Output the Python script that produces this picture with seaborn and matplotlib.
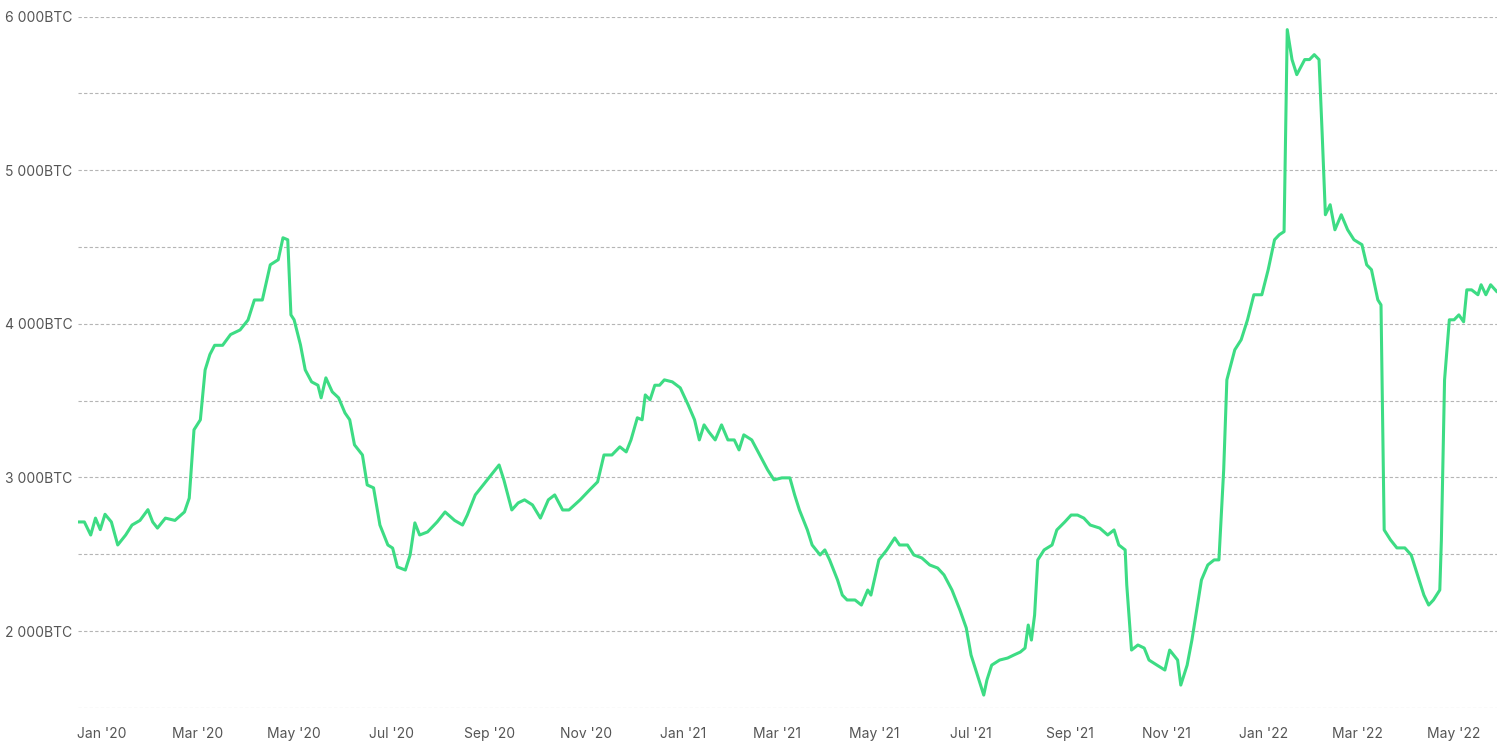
import matplotlib
matplotlib.use("Agg")
import matplotlib.pyplot as plt
import matplotlib.dates as mdates
from matplotlib.ticker import FixedLocator, FuncFormatter
import seaborn as sns
import pandas as pd

# days since 2019-12-17 and reserve in BTC
start_date = "2019-12-17"
days = [0, 4, 8, 11, 14, 17, 21, 25, 30, 34, 39, 44, 47, 50, 55, 61, 67, 70, 73, 77,
        80, 83, 86, 91, 96, 102, 107, 111, 116, 121, 126, 129, 132, 134, 136, 140, 143, 147, 151, 153,
        156, 160, 164, 168, 171, 174, 179, 182, 186, 190, 195, 198, 201, 206, 209, 212, 215, 220, 226, 231,
        237, 242, 245, 250, 255, 260, 265, 268, 273, 277, 281, 286, 291, 296, 300, 305, 309, 316, 322, 327,
        331, 336, 341, 345, 348, 352, 355, 357, 360, 363, 366, 369, 374, 379, 384, 388, 391, 394, 397, 401,
        405, 409, 413, 416, 419, 424, 429, 434, 438, 443, 448, 451, 454, 459, 462, 467, 470, 473, 478, 481,
        484, 489, 493, 497, 499, 504, 509, 514, 517, 522, 526, 531, 536, 541, 545, 550, 555, 559, 562, 566,
        570, 572, 575, 580, 585, 589, 593, 596, 598, 600, 602, 604, 608, 613, 616, 621, 625, 629, 633, 637,
        643, 648, 652, 655, 659, 660, 663, 667, 671, 674, 679, 684, 687, 692, 694, 698, 701, 704, 707, 711,
        715, 718, 721, 723, 728, 732, 736, 740, 745, 749, 753, 756, 759, 761, 764, 767, 772, 775, 778, 781,
        783, 785, 788, 791, 795, 799, 803, 808, 811, 814, 818, 820, 822, 826, 830, 835, 839, 843, 847, 850,
        853, 857, 858, 860, 863, 866, 869, 872, 874, 877, 881, 883, 886, 889, 893]
reserve = [2710, 2710, 2625, 2735, 2660, 2760, 2710, 2560, 2625, 2690, 2720, 2790, 2710, 2670, 2735, 2720, 2775, 2865, 3310, 3375,
           3700, 3800, 3860, 3860, 3930, 3960, 4025, 4155, 4155, 4384, 4417, 4560, 4547, 4058, 4026, 3863, 3700, 3622, 3600, 3518,
           3648, 3557, 3518, 3420, 3375, 3212, 3146, 2951, 2932, 2690, 2560, 2540, 2417, 2397, 2495, 2704, 2625, 2645, 2710, 2775,
           2720, 2690, 2755, 2886, 2951, 3016, 3081, 2984, 2788, 2834, 2854, 2821, 2735, 2854, 2886, 2788, 2788, 2854, 2919, 2971,
           3146, 3146, 3199, 3166, 3244, 3388, 3375, 3537, 3505, 3600, 3600, 3635, 3622, 3583, 3472, 3375, 3244, 3342, 3296, 3244,
           3342, 3244, 3244, 3179, 3277, 3244, 3146, 3049, 2984, 2997, 2997, 2886, 2788, 2658, 2560, 2495, 2528, 2463, 2332, 2234,
           2202, 2202, 2169, 2267, 2234, 2463, 2528, 2606, 2560, 2560, 2495, 2476, 2430, 2410, 2365, 2267, 2137, 2020, 1844, 1713,
           1583, 1681, 1778, 1811, 1824, 1844, 1863, 1889, 2039, 1941, 2104, 2463, 2528, 2560, 2658, 2710, 2755, 2755, 2735, 2690,
           2670, 2625, 2658, 2560, 2528, 2300, 1876, 1909, 1889, 1811, 1778, 1746, 1876, 1811, 1648, 1778, 1941, 2137, 2332, 2430,
           2463, 2463, 3049, 3635, 3831, 3896, 4026, 4189, 4189, 4352, 4547, 4580, 4600, 5915, 5720, 5622, 5720, 5720, 5752, 5720,
           5231, 4710, 4775, 4612, 4710, 4612, 4547, 4515, 4384, 4352, 4156, 4123, 2658, 2593, 2541, 2541, 2495, 2365, 2234, 2169,
           2202, 2267, 2593, 3635, 4026, 4026, 4058, 4013, 4221, 4221, 4189, 4254, 4189, 4254, 4208]

df = pd.DataFrame({
    "date": pd.to_datetime(start_date) + pd.to_timedelta(days, unit="D"),
    "reserve": reserve,
})

sns.set_style("white")
plt.rcParams["font.family"] = ["Inter", "DejaVu Sans"]

fig = plt.figure(figsize=(15, 7.53), dpi=100)
ax = fig.add_axes([0.052, 0.06, 0.946, 0.918])

sns.lineplot(data=df, x="date", y="reserve", ax=ax, color="#3ddc84", linewidth=2.2)

ax.set_ylim(1500, 6000)
ax.set_xlim(df["date"].iloc[0], df["date"].iloc[-1])
ax.yaxis.set_major_locator(FixedLocator([2000, 3000, 4000, 5000, 6000]))
ax.yaxis.set_minor_locator(FixedLocator([1500, 2500, 3500, 4500, 5500]))
ax.yaxis.set_major_formatter(FuncFormatter(lambda v, p: f"{int(v) // 1000} 000BTC"))
ax.grid(True, which="both", axis="y", linestyle=(0, (3, 2)), color="#b5b5b5", linewidth=0.8)
ax.grid(False, axis="x")

ax.xaxis.set_major_locator(mdates.MonthLocator(bymonth=[1, 3, 5, 7, 9, 11]))
ax.xaxis.set_major_formatter(mdates.DateFormatter("%b '%y"))
ax.tick_params(axis="both", which="both", length=0, labelsize=10, labelcolor="#555555")
ax.tick_params(axis="x", pad=14)
ax.tick_params(axis="y", pad=4)

ax.set_xlabel("")
ax.set_ylabel("")
for s in ax.spines.values():
    s.set_visible(False)

fig.savefig("out.png", dpi=100)
